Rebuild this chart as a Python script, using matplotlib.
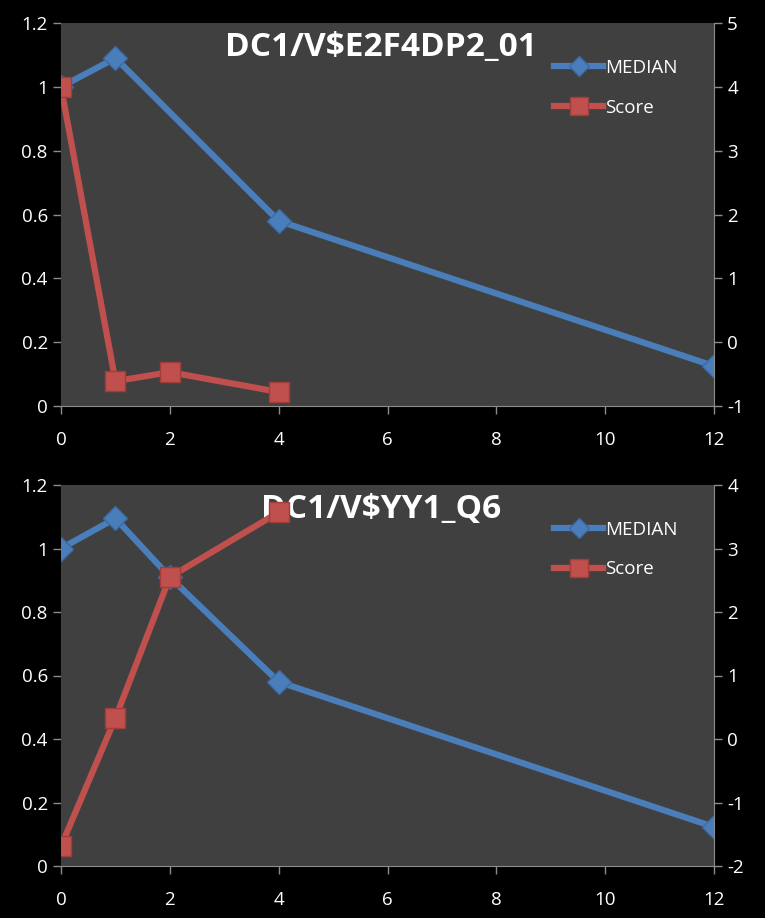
import matplotlib
matplotlib.use("Agg")
import matplotlib.pyplot as plt

plt.rcParams['font.family'] = ['Open Sans', 'DejaVu Sans']
plt.rcParams['axes.unicode_minus'] = False

# top panel
title1 = "DC1/V$E2F4DP2_01"
x_med1 = [0, 1, 4, 12]
med1 = [1.0, 1.09, 0.58, 0.125]
x_score1 = [0, 1, 2, 4]
score1 = [4.0, -0.61, -0.47, -0.78]

# bottom panel
title2 = "DC1/V$YY1_Q6"
x_med2 = [0, 1, 2, 4, 12]
med2 = [1.0, 1.095, 0.91, 0.58, 0.123]
x_score2 = [0, 1, 2, 4]
score2 = [-1.69, 0.33, 2.55, 3.57]

BLUE = "#4a7ebb"
RED = "#c0504d"
BG = "#404040"
GRID = "#8c8c8c"

W, H = 765, 918
fig = plt.figure(figsize=(W / 100, H / 100), dpi=100, facecolor="black")


def panel(top, bottom, title, xm, ym, xs, ys, rlim, rticks):
    ax = fig.add_axes([61 / W, 1 - bottom / H, (714 - 61) / W, (bottom - top) / H])
    ax.set_facecolor(BG)
    ax2 = ax.twinx()
    l1, = ax.plot(xm, ym, color=BLUE, lw=4.5, marker="D", ms=12,
                  mfc=BLUE, mec="#3a6aa5", label="MEDIAN", zorder=3)
    l2, = ax2.plot(xs, ys, color=RED, lw=4.5, marker="s", ms=15,
                   mfc=RED, mec="#a03c3a", label="Score", zorder=3)
    ax.set_xlim(0, 12)
    ax.set_ylim(0, 1.2)
    ax.set_xticks(range(0, 13, 2))
    ax.set_yticks([0, 0.2, 0.4, 0.6, 0.8, 1.0, 1.2])
    ax.set_yticklabels(["0", "0.2", "0.4", "0.6", "0.8", "1", "1.2"])
    ax2.set_ylim(*rlim)
    ax2.set_yticks(rticks)
    for a in (ax, ax2):
        for s in a.spines.values():
            s.set_visible(False)
        a.tick_params(colors=GRID, labelcolor="white", labelsize=13.5,
                      length=6, width=1, direction="out")
    ax.spines["bottom"].set_visible(True)
    ax.spines["bottom"].set_color(GRID)
    ax.spines["left"].set_visible(True)
    ax.spines["left"].set_color(BG)
    ax2.spines["right"].set_visible(True)
    ax2.spines["right"].set_color(GRID)
    ax.tick_params(axis="x", pad=12)
    ax.text(0.49, 0.98, title, transform=ax.transAxes, ha="center", va="top",
            color="white", fontsize=24, fontweight="bold")
    ax2.legend([l1, l2], ["MEDIAN", "Score"], loc="upper right",
               bbox_to_anchor=(0.97, 0.95), frameon=False,
               labelcolor="white", fontsize=13.5, handlelength=2.6,
               handletextpad=0.1, labelspacing=1.15, markerscale=0.85)
    return ax, ax2


panel(23, 406, title1, x_med1, med1, x_score1, score1, (-1, 5), range(-1, 6))
panel(485, 866, title2, x_med2, med2, x_score2, score2, (-2, 4), range(-2, 5))

fig.savefig("out.png", dpi=100, facecolor="black")
